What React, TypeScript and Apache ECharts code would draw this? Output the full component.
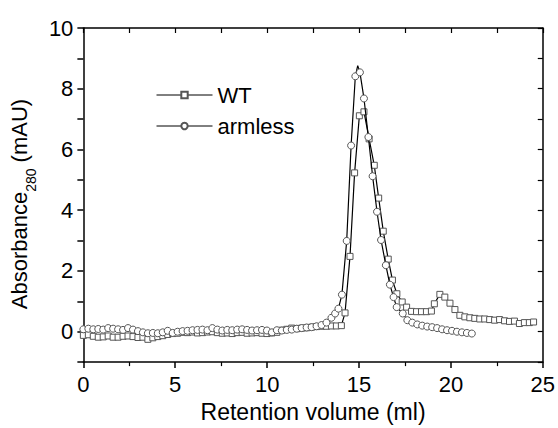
import React, { useEffect, useRef } from "react";
import * as echarts from "echarts";

const wtX = [
  0.0, 0.27, 0.54, 0.81, 1.08, 1.35, 1.62, 1.89, 2.16, 2.43, 2.7, 2.97, 3.24, 3.51, 3.78, 4.05, 4.32, 4.59,
  4.86, 5.13, 5.4, 5.67, 5.94, 6.21, 6.48, 6.75, 7.02, 7.29, 7.56, 7.83, 8.1, 8.37, 8.64, 8.91, 9.18, 9.45,
  9.72, 9.99, 10.26, 10.53, 10.8, 11.07, 11.34, 11.61, 11.88, 12.15, 12.42, 12.69, 12.96, 13.23, 13.5, 13.77,
  14.04, 14.24, 14.51, 14.76, 15.02, 15.27, 15.55, 15.83, 16.07, 16.32, 16.59, 16.82, 17.06, 17.35, 17.59,
  17.86, 18.13, 18.4, 18.67, 18.94, 19.1, 19.4, 19.67, 19.95, 20.22, 20.49, 20.76, 21.03, 21.3, 21.57, 21.84,
  22.11, 22.38, 22.65, 22.92, 23.19, 23.46, 23.73, 24.0, 24.27, 24.5,
];
const wtY = [
  -0.12, -0.1, -0.15, -0.18, -0.17, -0.14, -0.18, -0.18, -0.15, -0.14, -0.16, -0.19, -0.18, -0.25, -0.2, -0.16,
  -0.13, -0.09, -0.06, -0.05, -0.02, -0.03, -0.01, -0.04, -0.03, -0.01, 0.0, -0.03, -0.05, -0.04, -0.06, -0.03,
  -0.02, -0.05, -0.04, -0.03, -0.05, -0.06, -0.04, -0.02, 0.05, 0.08, 0.12, 0.1, 0.12, 0.13, 0.15, 0.17, 0.18,
  0.18, 0.19, 0.19, 0.2, 0.62, 2.48, 5.23, 7.11, 7.24, 6.35, 5.48, 4.4, 3.31, 2.39, 1.7, 1.25, 0.98, 0.81, 0.67,
  0.66, 0.66, 0.66, 0.68, 0.92, 1.23, 1.14, 0.94, 0.73, 0.54, 0.49, 0.46, 0.44, 0.42, 0.42, 0.4, 0.38, 0.4,
  0.36, 0.34, 0.35, 0.27, 0.3, 0.3, 0.32,
];

const armX = [
  0.0, 0.27, 0.54, 0.81, 1.08, 1.35, 1.62, 1.89, 2.16, 2.43, 2.7, 2.97, 3.24, 3.51, 3.78, 4.05, 4.32, 4.59,
  4.86, 5.13, 5.4, 5.67, 5.94, 6.21, 6.48, 6.75, 7.02, 7.29, 7.56, 7.83, 8.1, 8.37, 8.64, 8.91, 9.18, 9.45,
  9.72, 9.99, 10.26, 10.53, 10.8, 11.07, 11.34, 11.61, 11.88, 12.15, 12.42, 12.69, 12.96, 13.23, 13.5, 13.7,
  13.88, 14.07, 14.33, 14.57, 14.8, 14.93, 15.05, 15.27, 15.51, 15.74, 15.98, 16.2, 16.46, 16.68, 16.88, 17.05,
  17.38, 17.63, 17.9, 18.17, 18.44, 18.71, 18.98, 19.25, 19.52, 19.79, 20.06, 20.33, 20.6, 20.87, 21.14,
];
const armY = [
  0.08, 0.1, 0.08, 0.09, 0.07, 0.12, 0.1, 0.08, 0.06, 0.12, 0.07, 0.02, -0.02, -0.05, -0.04, -0.05, -0.02, 0.03,
  -0.04, 0.0, 0.02, 0.03, 0.05, 0.06, 0.07, 0.05, 0.12, 0.07, 0.04, 0.06, 0.05, 0.07, 0.08, 0.06, 0.04, 0.05,
  0.06, 0.04, -0.02, 0.05, 0.04, 0.06, 0.07, 0.1, 0.12, 0.14, 0.15, 0.18, 0.22, 0.3, 0.46, 0.6, 0.76, 1.22,
  2.99, 6.13, 8.41, 8.76, 8.54, 7.68, 6.41, 5.12, 3.95, 3.02, 2.19, 1.55, 1.14, 0.81, 0.6, 0.38, 0.3, 0.24,
  0.2, 0.17, 0.15, 0.12, 0.08, 0.05, 0.03, 0.0, -0.02, -0.04, -0.06,
];
// indices of points drawn by the line only (no marker)
const armUnmarked = [57];

const FONT = "Liberation Sans, Arial, sans-serif";

export default function App() {
  const ref = useRef<HTMLDivElement>(null);
  useEffect(() => {
    if (!ref.current) return;
    const chart = echarts.init(ref.current, undefined, { renderer: "svg" });
    const wtData = wtX.map((x, i) => [x, wtY[i]]);
    const armData = armX.map((x, i) =>
      armUnmarked.includes(i) ? { value: [x, armY[i]], symbol: "none" } : [x, armY[i]]
    );
    const axisLine = { show: true, onZero: false, lineStyle: { color: "#000", width: 1.5 } };
    chart.setOption({
      animation: false,
      backgroundColor: "#fff",
      textStyle: { fontFamily: FONT },
      grid: { left: 83, right: 15, top: 28, bottom: 62, containLabel: false },
      legend: {
        data: ["WT", "armless"],
        orient: "vertical",
        left: 151,
        top: 79,
        itemWidth: 56,
        itemHeight: 8,
        itemGap: 9,
        lineStyle: { width: 1, color: "#000" },
        textStyle: { fontSize: 22, color: "#000", fontFamily: FONT, lineHeight: 21 },
      },
      xAxis: [
        {
          type: "value",
          position: "bottom",
          min: 0,
          max: 25,
          interval: 5,
          axisLine,
          axisTick: { show: true, inside: false, length: 6, lineStyle: { color: "#000", width: 1.5 } },
          minorTick: { show: true, splitNumber: 2, length: 4, lineStyle: { color: "#000", width: 1.2 } },
          splitLine: { show: false },
          axisLabel: { fontSize: 22, color: "#000", margin: 11, fontFamily: FONT },
          name: "Retention volume (ml)",
          nameLocation: "middle",
          nameGap: 36,
          nameTextStyle: { fontSize: 23, color: "#000", fontFamily: FONT },
        },
        {
          type: "value",
          position: "top",
          min: 0,
          max: 25,
          interval: 2.5,
          axisLine,
          axisTick: { show: true, inside: true, length: 5, lineStyle: { color: "#000", width: 1.2 } },
          axisLabel: { show: false },
          splitLine: { show: false },
        },
      ],
      yAxis: [
        {
          type: "value",
          position: "left",
          min: -1,
          max: 10,
          interval: 1,
          axisLine,
          axisTick: { show: true, inside: false, length: 6, lineStyle: { color: "#000", width: 1.5 } },
          splitLine: { show: false },
          axisLabel: {
            fontSize: 22,
            color: "#000",
            margin: 10,
            fontFamily: FONT,
            formatter: (v: number) => (v >= 0 && Math.round(v) % 2 === 0 ? String(Math.round(v)) : ""),
          },
          name: "{a|Absorbance}{s|280}{a| (mAU)}",
          nameLocation: "middle",
          nameGap: 42,
          nameTextStyle: {
            color: "#000",
            fontFamily: FONT,
            padding: [0, 18, 0, 0],
            rich: {
              a: { fontSize: 22, fontFamily: FONT, color: "#000", lineHeight: 30, verticalAlign: "middle" },
              s: { fontSize: 14, fontFamily: FONT, color: "#000", lineHeight: 30, verticalAlign: "bottom", padding: [0, 0, -4, 0] },
            },
          },
        },
        {
          type: "value",
          position: "right",
          min: -1,
          max: 10,
          interval: 1,
          axisLine,
          axisTick: { show: true, inside: true, length: 5, lineStyle: { color: "#000", width: 1.2 } },
          axisLabel: { show: false },
          splitLine: { show: false },
        },
      ],
      series: [
        {
          name: "WT",
          type: "line",
          data: wtData,
          xAxisIndex: 0,
          yAxisIndex: 0,
          symbol: "rect",
          symbolSize: 6,
          showAllSymbol: true,
          lineStyle: { color: "#000", width: 1.2 },
          itemStyle: { color: "#fff", borderColor: "#555", borderWidth: 1 },
          z: 2,
        },
        {
          name: "armless",
          type: "line",
          data: armData,
          xAxisIndex: 0,
          yAxisIndex: 0,
          symbol: "circle",
          symbolSize: 7,
          showAllSymbol: true,
          lineStyle: { color: "#000", width: 1.2 },
          itemStyle: { color: "#fff", borderColor: "#555", borderWidth: 1 },
          z: 3,
        },
      ],
    });
    return () => chart.dispose();
  }, []);
  return <div ref={ref} style={{ width: 558, height: 428, position: "absolute", left: 0, top: 0 }} />;
}
